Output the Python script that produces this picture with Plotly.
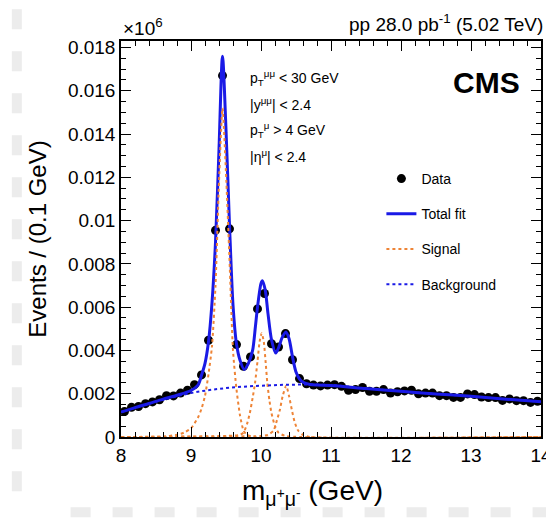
import plotly.graph_objects as go

# dimuon invariant mass, bin centres (GeV) and events per 0.1 GeV
mass = [8.05, 8.15, 8.25, 8.35, 8.45, 8.55, 8.65, 8.75, 8.85, 8.95,
        9.05, 9.15, 9.25, 9.35, 9.45, 9.55, 9.65, 9.75, 9.85, 9.95,
        10.05, 10.15, 10.25, 10.35, 10.45, 10.55, 10.65, 10.75, 10.85, 10.95,
        11.05, 11.15, 11.25, 11.35, 11.45, 11.55, 11.65, 11.75, 11.85, 11.95,
        12.05, 12.15, 12.25, 12.35, 12.45, 12.55, 12.65, 12.75, 12.85, 12.95,
        13.05, 13.15, 13.25, 13.35, 13.45, 13.55, 13.65, 13.75, 13.85, 13.95]
events = [0.00118, 0.00137, 0.00141, 0.00154, 0.00162, 0.00172, 0.00191, 0.00190, 0.00203, 0.00216,
          0.00242, 0.00287, 0.00447, 0.00955, 0.01670, 0.00962, 0.00427, 0.00327, 0.00370, 0.00592,
          0.00663, 0.00431, 0.00416, 0.00478, 0.00357, 0.00270, 0.00246, 0.00240, 0.00236, 0.00240,
          0.00242, 0.00234, 0.00216, 0.00219, 0.00229, 0.00211, 0.00211, 0.00219, 0.00203, 0.00209,
          0.00213, 0.00216, 0.00200, 0.00203, 0.00203, 0.00191, 0.00191, 0.00183, 0.00183, 0.00199,
          0.00196, 0.00185, 0.00182, 0.00182, 0.00169, 0.00176, 0.00168, 0.00168, 0.00160, 0.00165]

# total fit curve
fit_x = [8.0, 8.2, 8.4, 8.6, 8.8, 9.0, 9.1, 9.15, 9.2, 9.25, 9.3, 9.35, 9.4, 9.45, 9.5,
         9.55, 9.6, 9.65, 9.7, 9.76, 9.82, 9.88, 9.92, 9.95, 10.0, 10.02, 10.06, 10.1, 10.15,
         10.21, 10.26, 10.3, 10.355, 10.4, 10.45, 10.5, 10.55, 10.6, 10.7, 10.8, 11.0,
         11.5, 12.0, 12.5, 13.0, 13.5, 14.0]
fit_y = [0.00115, 0.00136, 0.00155, 0.00175, 0.00193, 0.00215, 0.00240, 0.00285, 0.00340, 0.00440,
         0.00620, 0.00900, 0.01330, 0.01760, 0.01420, 0.00980, 0.00610, 0.00430, 0.00355, 0.00312,
         0.00340, 0.00400, 0.00510, 0.00600, 0.00710, 0.00722, 0.00680, 0.00570, 0.00450, 0.00388,
         0.00420, 0.00458, 0.00485, 0.00455, 0.00370, 0.00300, 0.00268, 0.00253, 0.00243, 0.00240,
         0.00238, 0.00224, 0.00211, 0.00199, 0.00188, 0.00175, 0.00163]

# background component
bkg_x = [8.0, 8.5, 9.0, 9.5, 10.0, 10.5, 11.0, 11.5, 12.0, 12.5, 13.0, 13.5, 14.0]
bkg_y = [0.00115, 0.00163, 0.00203, 0.00226, 0.00237, 0.00242, 0.00240, 0.00224, 0.00211,
         0.00199, 0.00188, 0.00175, 0.00163]

# signal components: Y(1S), Y(2S), Y(3S)
sig1_x = [8.0, 8.6, 8.8, 8.9, 9.0, 9.1, 9.15, 9.2, 9.25, 9.3, 9.35, 9.4, 9.45, 9.5, 9.55,
          9.6, 9.65, 9.7, 9.75, 9.8, 9.9, 14.0]
sig1_y = [0.0, 0.00002, 0.0001, 0.0002, 0.0004, 0.0009, 0.0013, 0.0019, 0.0029, 0.0042, 0.0070,
          0.0118, 0.0152, 0.0122, 0.0082, 0.0040, 0.0022, 0.0010, 0.0003, 0.0001, 0.0, 0.0]
sig2_x = [8.0, 9.5, 9.7, 9.75, 9.8, 9.84, 9.88, 9.915, 9.95, 9.98, 10.01, 10.04, 10.07, 10.09,
          10.12, 10.15, 10.2, 10.25, 10.35, 14.0]
sig2_y = [0.0, 0.00005, 0.0001, 0.0002, 0.0006, 0.0011, 0.0018, 0.0025, 0.0035, 0.0044, 0.0048,
          0.0044, 0.0033, 0.0025, 0.0017, 0.0011, 0.0005, 0.0002, 0.00005, 0.0]
sig3_x = [8.0, 10.0, 10.1, 10.18, 10.23, 10.27, 10.31, 10.36, 10.4, 10.44, 10.48, 10.53, 10.6,
          10.7, 14.0]
sig3_y = [0.0, 0.00005, 0.0001, 0.0003, 0.0008, 0.00126, 0.0019, 0.00237, 0.0019, 0.00126,
          0.0007, 0.0003, 0.0001, 0.0, 0.0]

y_ticks = [0, 0.002, 0.004, 0.006, 0.008, 0.01, 0.012, 0.014, 0.016, 0.018]
y_labels = ["0", "0.002", "0.004", "0.006", "0.008", "0.01", "0.012", "0.014", "0.016", "0.018"]
x_ticks = [8, 9, 10, 11, 12, 13, 14]

blue = "#1a1ae6"
orange = "#ee8436"
font = "Liberation Sans, Arial, sans-serif"

fig = go.Figure()
fig.add_trace(go.Scatter(x=mass, y=events, mode="markers", name="Data",
                         marker=dict(color="black", size=9), legendgroup="data"))
fig.add_trace(go.Scatter(x=fit_x, y=fit_y, mode="lines", name="Total fit",
                         line=dict(color=blue, width=3, shape="spline", smoothing=0.8),
                         legendgroup="fit"))
for i, (sx, sy) in enumerate([(sig1_x, sig1_y), (sig2_x, sig2_y), (sig3_x, sig3_y)]):
    fig.add_trace(go.Scatter(x=sx, y=sy, mode="lines", name="Signal",
                             line=dict(color=orange, width=2, dash="dot", shape="spline", smoothing=0.6),
                             legendgroup="sig", showlegend=(i == 0)))
fig.add_trace(go.Scatter(x=bkg_x, y=bkg_y, mode="lines", name="Background",
                         line=dict(color=blue, width=2, dash="dot", shape="spline"),
                         legendgroup="bkg"))

axis_common = dict(showline=True, linecolor="black", linewidth=1.5, mirror="allticks",
                   ticks="inside", ticklen=10, tickwidth=1.2, tickcolor="black",
                   showgrid=False, zeroline=False, automargin=False,
                   tickfont=dict(family=font, size=19, color="black"))

fig.update_xaxes(range=[8, 14], tickvals=x_ticks,
                 minor=dict(dtick=0.2, ticks="inside", ticklen=5, tickcolor="black"),
                 **axis_common)
fig.update_yaxes(range=[0, 0.0183], tickvals=y_ticks, ticktext=y_labels,
                 minor=dict(dtick=0.0005, ticks="inside", ticklen=5, tickcolor="black"),
                 title=dict(text="Events / (0.1 GeV)",
                            font=dict(family=font, size=24, color="black"), standoff=15),
                 **axis_common)

ann_font = dict(family=font, size=14, color="black")
cuts = ["p<sub>T</sub><sup>μμ</sup> < 30 GeV", "|y<sup>μμ</sup>| < 2.4",
        "p<sub>T</sub><sup>μ</sup> > 4 GeV", "|η<sup>μ</sup>| < 2.4"]
cut_y = [0.0166, 0.0154, 0.0142, 0.0130]
annotations = [dict(x=9.82, y=cy, xref="x", yref="y", text=t, showarrow=False,
                    xanchor="left", yanchor="middle", font=ann_font)
               for t, cy in zip(cuts, cut_y)]
annotations += [
    dict(x=0.457, y=0, xref="paper", yref="paper",
         text="m<sub>μ<sup>+</sup>μ<sup>-</sup></sub> (GeV)", showarrow=False,
         xanchor="center", yanchor="middle", yshift=-55,
         font=dict(family=font, size=28, color="black")),
    dict(x=0, y=1.0, xref="paper", yref="paper", text="×10<sup>6</sup>", showarrow=False,
         xanchor="left", yanchor="bottom", yshift=0, font=dict(family=font, size=19, color="black")),
    dict(x=1.01, y=1.0, xref="paper", yref="paper", text="pp 28.0 pb<sup>-1</sup> (5.02 TeV)",
         showarrow=False, xanchor="right", yanchor="bottom", yshift=4,
         font=dict(family=font, size=19, color="black")),
    dict(x=0.955, y=0.895, xref="paper", yref="paper", text="<b>CMS</b>", showarrow=False,
         xanchor="right", yanchor="middle", font=dict(family=font, size=30, color="black")),
]

# faint page-edge strips seen in the reference screenshot
shapes = [
    dict(type="line", xref="paper", yref="paper", x0=-0.248, x1=-0.248, y0=1.08, y1=-0.16,
         line=dict(color="#ececec", width=10, dash="20px,22px"), layer="below"),
    dict(type="line", xref="paper", yref="paper", x0=-0.12, x1=1.03, y0=-0.19, y1=-0.19,
         line=dict(color="#ececec", width=10, dash="20px,22px"), layer="below"),
]

fig.update_layout(
    width=546, height=512,
    margin=dict(l=113, r=13, t=33, b=83),
    paper_bgcolor="white", plot_bgcolor="white",
    font=dict(family=font, color="black"),
    showlegend=True,
    legend=dict(x=0.62, y=0.692, xanchor="left", yanchor="top", traceorder="grouped",
                tracegroupgap=14, font=dict(family=font, size=14, color="black"),
                bgcolor="rgba(0,0,0,0)", itemwidth=30),
    annotations=annotations,
    shapes=shapes,
)

fig.write_html("out.html")
